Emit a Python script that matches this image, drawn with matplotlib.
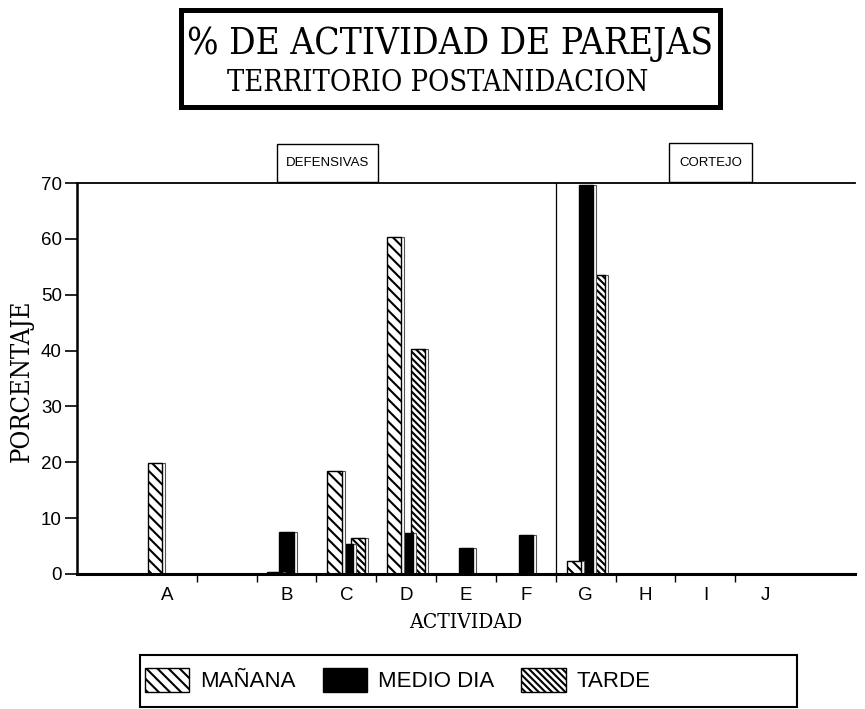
import matplotlib
matplotlib.use('Agg')
import matplotlib.pyplot as plt
from matplotlib.patches import Rectangle, Patch
from matplotlib import font_manager
import numpy as np

# ---------------- data ----------------
categories = ['', 'A', '', 'B', 'C', 'D', 'E', 'F', 'G', 'H', 'I', 'J', '']
manana = [0, 19.8, 0, 0.4, 18.4, 60.3, 0, 0, 2.3, 0, 0, 0, 0]
medio_dia = [0, 0, 0, 7.5, 5.4, 7.4, 4.7, 7.0, 69.6, 0, 0, 0, 0]
tarde = [0, 0, 0, 0, 6.5, 40.3, 0, 0, 53.6, 0, 0, 0, 0]
series_names = ['MAÑANA', 'MEDIO DIA', 'TARDE']
yticks = [0, 10, 20, 30, 40, 50, 60, 70]
group_labels = ['DEFENSIVAS', 'CORTEJO']
title_1 = '% DE ACTIVIDAD DE PAREJAS'
title_2 = 'TERRITORIO POSTANIDACION'
xlabel = 'ACTIVIDAD'
ylabel = 'PORCENTAJE'

# ---------------- fonts ----------------
plt.rcParams['hatch.linewidth'] = 1.5
sans = 'Liberation Sans'
have_cond = any(f.name == 'DejaVu Serif' and f.stretch in ('condensed', 'semi-condensed')
                for f in font_manager.fontManager.ttflist)
if have_cond:
    serif_kw = dict(family='DejaVu Serif', fontstretch='condensed')
else:
    serif_kw = dict(family='Liberation Serif')

W, H = 865, 709
fig = plt.figure(figsize=(W / 100, H / 100), dpi=100)


def fx(px):
    return px / W


def fy(py):
    return 1 - py / H


ax = fig.add_axes([fx(77), fy(574), fx(855) - fx(77), fy(183) - fy(574)])

x = np.arange(len(categories))
width = 0.24
offsets = [-0.2, 0.0, 0.2]
hatches = ['\\\\\\', None, '\\\\\\\\\\']
faces = ['white', 'black', 'white']
depth = 0.05  # small 3-D side strip

series = [manana, medio_dia, tarde]
order = [2, 1, 0]
for si in order:
    vals = np.array(series[si], dtype=float)
    mask = vals > 0
    xs = x[mask] + offsets[si]
    # side strip (3-D look)
    ax.bar(xs + depth, vals[mask], width=width, color='white', edgecolor='#555555',
           linewidth=0.8, zorder=2 + (2 - si) * 0.1)
    ax.bar(xs, vals[mask], width=width, color=faces[si], edgecolor='black',
           hatch=hatches[si], linewidth=1.0, zorder=2.05 + (2 - si) * 0.1)

ax.set_xlim(-0.5, len(categories) - 0.5)
ax.set_ylim(0, 70)
ax.set_yticks(yticks)
ax.set_yticklabels([str(v) for v in yticks], fontsize=13.5, family=sans)
ax.set_xticks(x)
ax.set_xticklabels(categories, fontsize=13.5, family=sans)
ax.set_xticks(np.arange(1.5, 11.0, 1.0), minor=True)
ax.tick_params(axis='x', which='major', length=0, pad=9)
ax.tick_params(axis='x', which='minor', length=6, width=1.0, direction='out')
ax.tick_params(axis='y', length=9, width=1.2, direction='out', pad=2)

ax.spines['right'].set_visible(False)
ax.spines['top'].set_linewidth(1.3)
ax.spines['left'].set_linewidth(1.8)
ax.spines['bottom'].set_linewidth(2.2)
ax.axvline(7.5, color='black', linewidth=0.9, zorder=1)

# group label boxes
for (x0, y0, x1, y1), lab in zip([(277, 144, 378, 182), (669, 143, 752, 182)], group_labels):
    fig.patches.append(Rectangle((fx(x0), fy(y1)), fx(x1) - fx(x0), fy(y0) - fy(y1),
                                 transform=fig.transFigure, fill=False,
                                 edgecolor='black', linewidth=1.0))
    fig.text(fx((x0 + x1) / 2), fy((y0 + y1) / 2), lab, ha='center', va='center',
             fontsize=9.5, family=sans)

# title box
fig.patches.append(Rectangle((fx(181), fy(107)), fx(720) - fx(181), fy(10) - fy(107),
                             transform=fig.transFigure, fill=False,
                             edgecolor='black', linewidth=3.6))

renderer = fig.canvas.get_renderer()


def fit_text(t, target_w, rotated=False):
    t.set_fontsize(20)
    bb = t.get_window_extent(renderer=renderer)
    w = bb.height if rotated else bb.width
    t.set_fontsize(20 * target_w / w)


t1 = fig.text(fx(450), fy(44), title_1, ha='center', va='center', **serif_kw)
fit_text(t1, 525)
t2 = fig.text(fx(438), fy(83), title_2, ha='center', va='center', **serif_kw)
fit_text(t2, 420)
tx = fig.text(fx(466), fy(622), xlabel, ha='center', va='center', **serif_kw)
fit_text(tx, 113)
ty = fig.text(fx(21), fy(381), ylabel, ha='center', va='center', rotation=90, **serif_kw)
fit_text(ty, 162, rotated=True)

# legend
fig.patches.append(Rectangle((fx(140), fy(707)), fx(797) - fx(140), fy(655) - fy(707),
                             transform=fig.transFigure, fill=False,
                             edgecolor='black', linewidth=1.5))
handles = [Patch(facecolor=faces[i], edgecolor='black', hatch=hatches[i], label=series_names[i])
           for i in range(3)]
fig.legend(handles=handles, loc='center left', bbox_to_anchor=(fx(145), fy(680)),
           ncol=3, frameon=False, prop={'family': sans, 'size': 16},
           handlelength=2.0, handleheight=1.3, handletextpad=0.5, columnspacing=1.2,
           borderaxespad=0, borderpad=0)

fig.savefig('out.png', dpi=100)
